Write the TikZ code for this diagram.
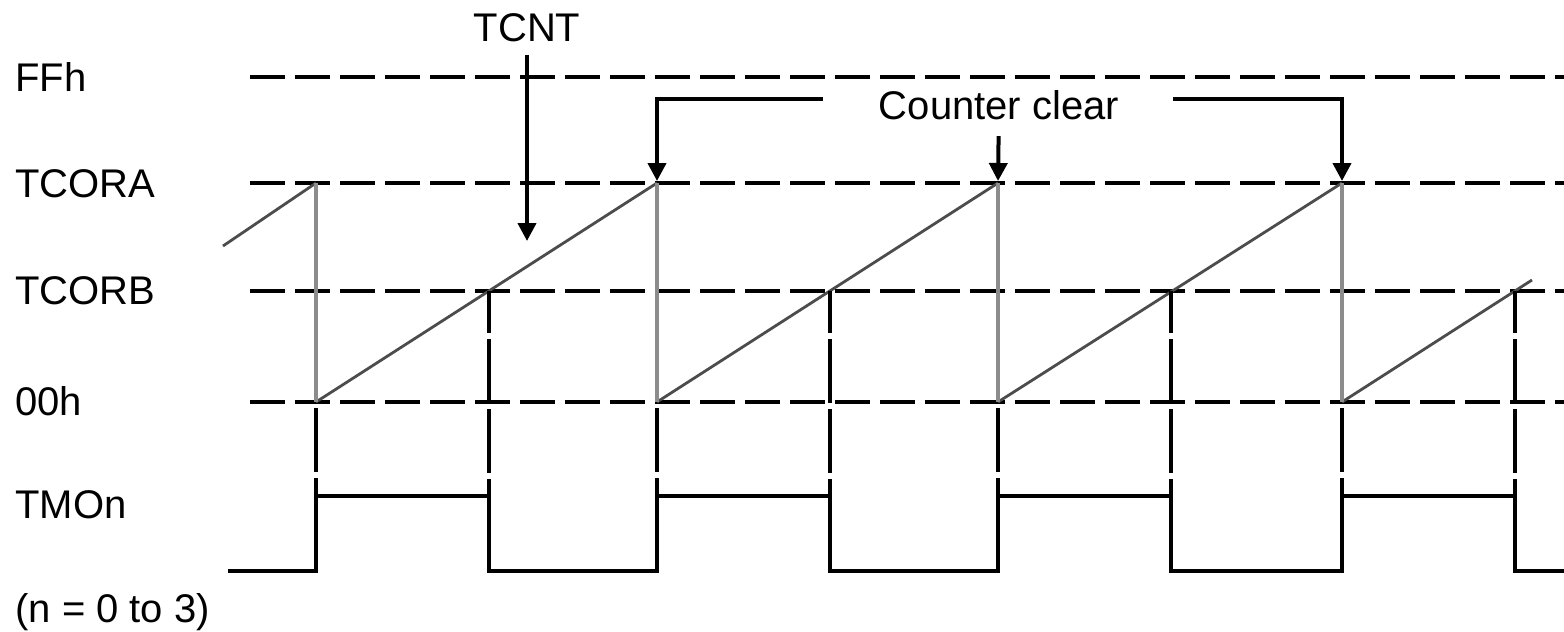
\documentclass[tikz,border=0pt]{standalone}
\usepackage{fontspec}
\setmainfont{Liberation Sans}
\usetikzlibrary{positioning, arrows.meta, calc}

\begin{document}
\begin{tikzpicture}[
    x=0.5pt, y=-0.5pt,
    every node/.style={inner sep=0pt, font=\fontsize{20}{24}\selectfont},
    level/.style={draw, line width=2pt, dash pattern=on 17.5pt off 5pt},
    ramp/.style={draw=black!70, line width=1.4pt},
    clear/.style={draw=black!45, line width=2pt},
    guide/.style={draw, line width=2pt, dash pattern=on 32pt off 3pt},
    signal/.style={draw, line width=2pt},
    pointer/.style={draw, line width=2pt, -{Triangle[length=9pt, width=9pt]}}
]
    \useasboundingbox (0,0) rectangle (1564,632);

    % Level labels
    \node[anchor=west] (ffh)   at (15,77)  {FFh};
    \node[anchor=west] (tcora) at (15,184) {TCORA};
    \node[anchor=west] (tcorb) at (15,291) {TCORB};
    \node[anchor=west] (zero)  at (15,401) {00h};
    \node[anchor=west] (tmo)   at (15,505) {TMOn};
    \node[anchor=west] (note)  at (15,612) {(n = 0 to 3)};

    % Dashed levels
    \foreach \name/\y in {ffh/77, tcora/183, tcorb/291, zero/402}
        \draw[level] (250,\y) coordinate (\name-l) -- (1564,\y) coordinate (\name-r);

    % Counter ramps and clears
    \draw[ramp] (223,246) -- (316,183);
    \foreach \xa/\xb in {316/657, 657/998, 998/1342}
        \draw[ramp] (\xa,402) -- (\xb,183);
    \draw[ramp] (1342,402) -- (1532,280);
    \foreach \x/\name in {316/c0, 657/c1, 998/c2, 1342/c3}
        \draw[clear] (\x,183) coordinate (\name) -- (\x,402);

    % Guides down to TMOn
    \foreach \x in {316, 657, 998, 1342}
        \draw[guide, dash phase=32pt] (\x,402) -- (\x,496);
    \foreach \x in {489, 830, 1171, 1515}
        \draw[guide, dash phase=11pt] (\x,291) -- (\x,496);

    % TMOn output
    \draw[signal] (228,571) -| (316,496) -| (489,571) -| (657,496) -| (830,571)
        -| (998,496) -| (1171,571) -| (1342,496) -| (1515,571) -- (1564,571);

    % TCNT pointer
    \node (tcnt) at (527,28) {TCNT};
    \coordinate (tcnt-tip) at (527,241);
    \draw[pointer, shorten <=6pt] (tcnt) -- (tcnt-tip);

    % Counter clear pointers
    \node (cclear) at (999,105) {Counter clear};
    \draw[pointer, shorten >=1pt] ([xshift=-28pt, yshift=3pt]cclear.west) -| (c1);
    \draw[pointer, shorten <=8pt, shorten >=1pt] (cclear) -- (c2);
    \draw[pointer, shorten >=1pt] ([xshift=27pt, yshift=3pt]cclear.east) -| (c3);
\end{tikzpicture}
\end{document}
